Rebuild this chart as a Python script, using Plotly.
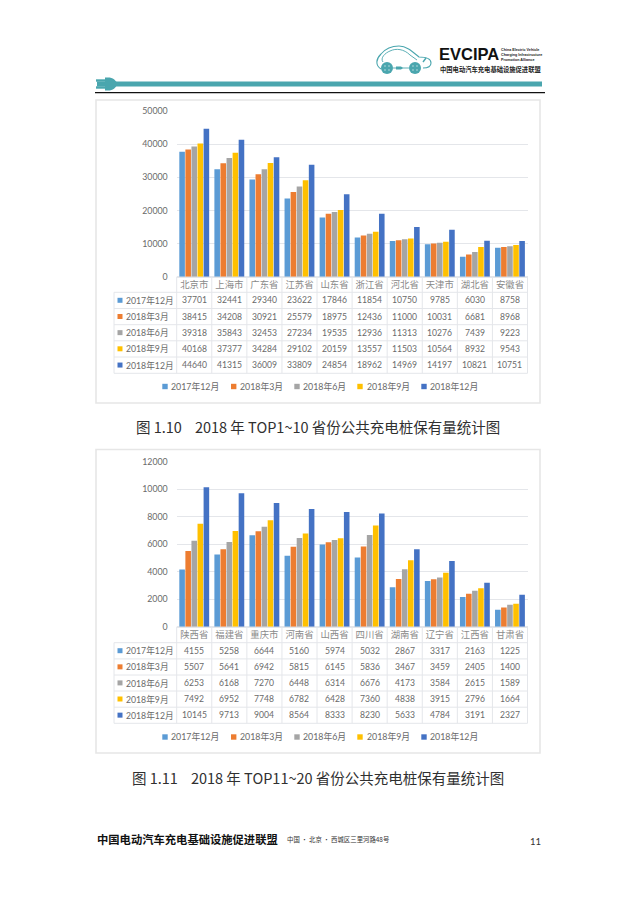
import plotly.graph_objects as go

W, H = 636, 900
series_names = ["2017年12月", "2018年3月", "2018年6月", "2018年9月", "2018年12月"]
colors = ["#5B9BD5", "#ED7D31", "#A5A5A5", "#FFC000", "#4472C4"]

cats_a = ["北京市", "上海市", "广东省", "江苏省", "山东省", "浙江省", "河北省", "天津市", "湖北省", "安徽省"]
a_2017_12 = [37701, 32441, 29340, 23622, 17846, 11854, 10750, 9785, 6030, 8758]
a_2018_03 = [38415, 34208, 30921, 25579, 18975, 12436, 11000, 10031, 6681, 8968]
a_2018_06 = [39318, 35843, 32453, 27234, 19535, 12936, 11313, 10276, 7439, 9223]
a_2018_09 = [40168, 37377, 34284, 29102, 20159, 13557, 11503, 10564, 8932, 9543]
a_2018_12 = [44640, 41315, 36009, 33809, 24854, 18962, 14969, 14197, 10821, 10751]

cats_b = ["陕西省", "福建省", "重庆市", "河南省", "山西省", "四川省", "湖南省", "辽宁省", "江西省", "甘肃省"]
b_2017_12 = [4155, 5258, 6644, 5160, 5974, 5032, 2867, 3317, 2163, 1225]
b_2018_03 = [5507, 5641, 6942, 5815, 6145, 5836, 3467, 3459, 2405, 1400]
b_2018_06 = [6253, 6168, 7270, 6448, 6314, 6676, 4173, 3584, 2615, 1589]
b_2018_09 = [7492, 6952, 7748, 6782, 6428, 7360, 4838, 3915, 2796, 1664]
b_2018_12 = [10145, 9713, 9004, 8564, 8333, 8230, 5633, 4784, 3191, 2327]

caption_a = "图 1.10    2018 年 TOP1~10 省份公共充电桩保有量统计图"
caption_b = "图 1.11    2018 年 TOP11~20 省份公共充电桩保有量统计图"
org_name = "中国电动汽车充电基础设施促进联盟"
address = "中国 · 北京 · 西城区三里河路48号"
page_no = "11"

FONT = "Lato, 'Noto Sans CJK SC', sans-serif"
CJK = "'Noto Sans CJK SC', sans-serif"
TXT = "#6a6a6a"
GRID = "#e4e6ea"
TEAL = "#4aa6ae"

def X(x): return x / W
def Y(y): return 1 - y / H

shapes, annots = [], []

def line(x0, y0, x1, y1, color=GRID, width=1):
    shapes.append(dict(type="line", xref="paper", yref="paper", x0=X(x0), y0=Y(y0), x1=X(x1), y1=Y(y1),
                       line=dict(color=color, width=width), layer="below"))

def rect(x0, y0, x1, y1, fill=None, color=None, width=0, layer="below"):
    shapes.append(dict(type="rect", xref="paper", yref="paper", x0=X(x0), y0=Y(y0), x1=X(x1), y1=Y(y1),
                       fillcolor=fill or "rgba(0,0,0,0)", line=dict(color=color or "rgba(0,0,0,0)", width=width), layer=layer))

def path(cmds, fill=None, color=None, width=0):
    out = []
    for c in cmds:
        if isinstance(c, str):
            out.append(c)
        else:
            out.append(f"{X(c[0]):.5f},{Y(c[1]):.5f}")
    shapes.append(dict(type="path", xref="paper", yref="paper", path=" ".join(out),
                       fillcolor=fill or "rgba(0,0,0,0)", line=dict(color=color or "rgba(0,0,0,0)", width=width), layer="above"))

def circle(cx, cy, r, fill=None, color=None, width=0):
    shapes.append(dict(type="circle", xref="paper", yref="paper", x0=X(cx - r), y0=Y(cy - r), x1=X(cx + r), y1=Y(cy + r),
                       fillcolor=fill or "rgba(0,0,0,0)", line=dict(color=color or "rgba(0,0,0,0)", width=width), layer="above"))

def text(x, y, s, size, color=TXT, anchor="center", family=FONT):
    annots.append(dict(x=X(x), y=Y(y), xref="paper", yref="paper", text=s, showarrow=False, borderpad=0,
                       xanchor=anchor, yanchor="middle", align=anchor, font=dict(size=size, color=color, family=family)))

PLOT_L, PLOT_R = 176.7, 527.5

def chart(cats, rows, ymax, dtick, frame_top, frame_bot, y_top, y_zero, row_lines, leg_y, xa, ya, caption, cap_y):
    rect(96, frame_top, 540, frame_bot, fill="white", color="#e6e6e6", width=1.6)
    col = (PLOT_R - PLOT_L) / len(cats)
    for i in range(len(cats) + 1):
        line(PLOT_L + i * col, y_zero, PLOT_L + i * col, row_lines[-1])
    line(114, row_lines[0], 114, row_lines[-1])
    for ry in row_lines:
        line(114, ry, PLOT_R, ry)
    for i, vals in enumerate(rows):
        cy = (row_lines[i] + row_lines[i + 1]) / 2
        rect(117.5, cy - 2.6, 122.5, cy + 2.4, fill=colors[i])
        text(125, cy, series_names[i], 8.7, anchor="left")
        for c, v in zip(cats, vals):
            annots.append(dict(x=c, y=Y(cy), xref=xa, yref="paper", text=str(v), showarrow=False, borderpad=0,
                               xanchor="center", yanchor="middle", font=dict(size=8.6, color=TXT, family=FONT)))
    for name, c, kx, tx in zip(series_names, colors, [165, 233.7, 297, 360, 424], [170, 238.5, 302, 365.5, 429]):
        rect(kx - 2.7, leg_y - 2.2, kx + 2.7, leg_y + 3.2, fill=c)
        text(tx, leg_y, name, 8.8, anchor="left")
    text(318, cap_y, caption, 14.5, color="#303030", family=CJK)
    return dict(xaxis=dict(domain=[X(PLOT_L), X(PLOT_R)], type="category", categoryorder="array", categoryarray=cats,
                           tickfont=dict(size=9.4, color="#8a8a8a", family=CJK), ticklen=0, ticks="", showgrid=False,
                           showline=False, anchor=ya, fixedrange=True, ticklabelstandoff=1),
                yaxis=dict(domain=[Y(y_zero), Y(y_top)], range=[0, ymax], dtick=dtick, tickformat="d", anchor=xa,
                           tickfont=dict(size=8.8, color=TXT, family=FONT), gridcolor=GRID, gridwidth=1, ticks="",
                           showline=False, zeroline=True, zerolinecolor=GRID, ticklabelstandoff=8, fixedrange=True))

rows_a = [a_2017_12, a_2018_03, a_2018_06, a_2018_09, a_2018_12]
rows_b = [b_2017_12, b_2018_03, b_2018_06, b_2018_09, b_2018_12]

fig = go.Figure()
for name, c, va, vb in zip(series_names, colors, rows_a, rows_b):
    fig.add_trace(go.Bar(x=cats_a, y=va, name=name, marker=dict(color=c, line_width=0), xaxis="x", yaxis="y", showlegend=False))
    fig.add_trace(go.Bar(x=cats_b, y=vb, name=name, marker=dict(color=c, line_width=0), xaxis="x2", yaxis="y2", showlegend=False))

ax1 = chart(cats_a, rows_a, 50000, 10000, 100, 403, 111, 276.7, [292.3, 308.5, 324.7, 340.8, 357, 373.3], 386, "x", "y", caption_a, 426.5)
ax2 = chart(cats_b, rows_b, 12000, 2000, 449.5, 753, 461.7, 626.7, [642.7, 658.9, 675, 691, 707.2, 723.3], 736.5, "x2", "y2", caption_b, 777)

# header band
rect(97, 81.6, 542, 86.4, fill=TEAL, layer="above")
line(95, 92.6, 545, 92.6, color="#111111", width=1.2)
path(["M", (105, 77.5), "L", (108, 77.5), "C", (113, 77.5), (116, 80), (117, 84), "C", (116, 88), (113, 90.5), (108, 90.5), "L", (105, 90.5), "Z"], fill=TEAL)
rect(96, 79.3, 105, 81.7, fill=TEAL, layer="above")
rect(96, 86.3, 105, 88.7, fill=TEAL, layer="above")

# logo car
path(["M", (381, 69), "C", (375, 65), (376, 59), (381, 54), "C", (386, 48), (392, 46), (399, 46),
      "C", (407, 46), (413, 52), (419, 57), "C", (425, 57), (431, 58), (431, 63), "C", (431, 67), (428, 68), (423, 68)],
     color=TEAL, width=1.1)
path(["M", (383, 62), "C", (380, 58), (385, 53), (390, 51), "C", (396, 48), (404, 49), (410, 55), "L", (417, 60)], color=TEAL, width=0.9)
path(["M", (393, 68), "L", (409, 68)], color=TEAL, width=0.9)
for cx in (387, 415):
    circle(cx, 68, 6, fill=TEAL)
    for dx, dy in ((-2, -2), (2, -2), (-2, 2), (2, 2)):
        circle(cx + dx, 68 + dy, 0.7, fill="#cfe8ea")
path(["M", (396, 66.5), "L", (401, 66.5), "L", (403, 68), "L", (401, 69.5), "L", (396, 69.5), "Z"], fill=TEAL)
path(["M", (426, 58), "L", (423, 62)], color=TEAL, width=1.4)

text(437.5, 54, "<b>EVCIPA</b>", 16.5, color="#111111", anchor="left", family="'Liberation Sans', sans-serif")
for yy, s in zip((50, 55, 60), ("China Electric Vehicle", "Charging Infrastructure", "Promotion Alliance")):
    text(500, yy, f"<b>{s}</b>", 3.7, color="#222222", anchor="left", family="'Liberation Sans', sans-serif")
text(438.5, 69.5, f"<b>{org_name}</b>", 6.3, color="#222222", anchor="left", family=CJK)

# footer
text(95.5, 838.5, f"<b>{org_name}</b>", 11.3, color="#111111", anchor="left", family=CJK)
text(285.5, 839, address, 6.4, color="#333333", anchor="left", family=CJK)
text(535, 841.5, page_no, 9.5, color="#333333", family=FONT)

fig.update_layout(
    width=W, height=H, margin=dict(l=0, r=0, t=0, b=0, autoexpand=False), paper_bgcolor="white", plot_bgcolor="rgba(0,0,0,0)",
    barmode="group", bargap=0.135, bargroupgap=0.08, showlegend=False,
    xaxis=ax1["xaxis"], yaxis=ax1["yaxis"], xaxis2=ax2["xaxis"], yaxis2=ax2["yaxis"],
    shapes=shapes, annotations=annots, font=dict(family=FONT),
)
fig.write_html("out.html", config=dict(displayModeBar=False), post_script="document.body.style.margin='0';")
